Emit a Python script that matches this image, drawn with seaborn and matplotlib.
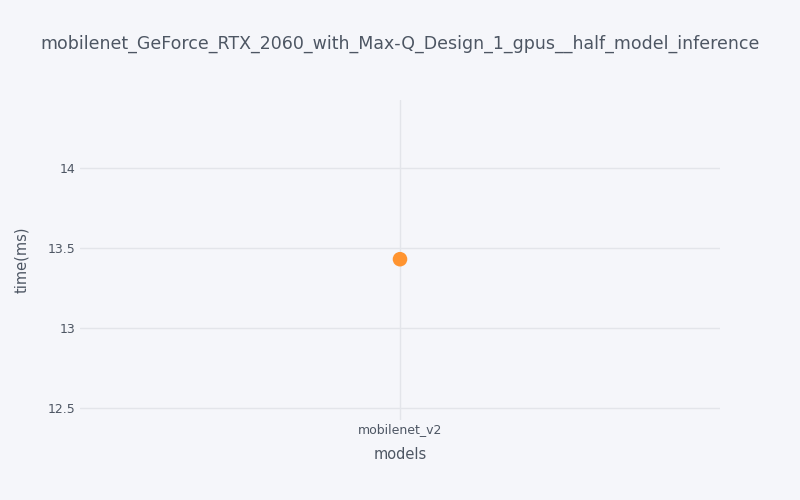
import numpy as np
import pandas as pd
import matplotlib as mpl
mpl.use("Agg")
import matplotlib.pyplot as plt
import seaborn as sb

models = ["mobilenet_v2"]
times = [13.43]
y_ticks = [12.5, 13, 13.5, 14]
y_tick_labels = ["12.5", "13", "13.5", "14"]
title = "mobilenet_GeForce_RTX_2060_with_Max-Q_Design_1_gpus__half_model_inference"

bg = "#f5f6fa"
grid_col = "#e3e5ea"
txt = "#4d5663"

sb.set_style("white")
plt.rcParams['font.family'] = ['DejaVu Sans']

data = pd.DataFrame({"models": models, "time(ms)": times})

fig = plt.figure(figsize=(8, 5), dpi=100, facecolor=bg)
ax = fig.add_axes([0.1, 0.16, 0.8, 0.64], facecolor=bg)

sb.scatterplot(data=data, x="models", y="time(ms)", ax=ax, s=110,
               color="#ff9430", edgecolor="none", zorder=3)

ax.set_xlim(-1, 1)
ax.set_ylim(12.425, 14.425)
ax.set_yticks(y_ticks)
ax.set_yticklabels(y_tick_labels)
ax.grid(True, color=grid_col, linewidth=1)
ax.set_axisbelow(True)
for sp in ax.spines.values():
    sp.set_visible(False)
ax.tick_params(axis="both", length=0, colors=txt, labelsize=9)
ax.tick_params(axis="y", pad=3)
ax.tick_params(axis="x", pad=2)
ax.set_xlabel("models", color=txt, fontsize=10.5, labelpad=8)
ax.set_ylabel("time(ms)", color=txt, fontsize=10.5, labelpad=14)

fig.text(0.5, 0.912, title, ha="center", va="center", color=txt, fontsize=12.5)

fig.savefig("out.png", dpi=100, facecolor=bg)
